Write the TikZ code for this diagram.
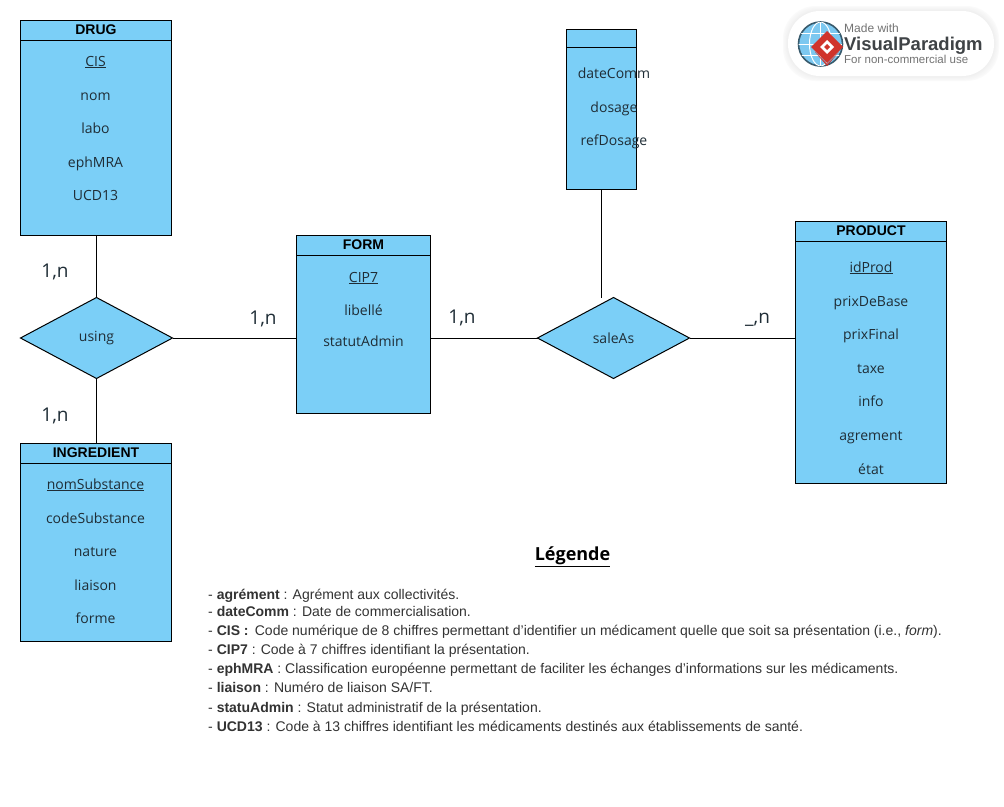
\documentclass[tikz,border=0pt]{standalone}
\usepackage{fontspec}
\setmainfont{Liberation Sans}
\newfontfamily\attrfont{Open Sans}
\usetikzlibrary{shapes.geometric,calc}
\definecolor{entfill}{HTML}{7BCFF7}
\definecolor{txtdark}{HTML}{1F2D36}
\definecolor{legtxt}{HTML}{333333}
\definecolor{vpgray}{HTML}{3F4346}
\definecolor{vpred}{HTML}{D0342C}
\definecolor{vpblue}{HTML}{7CC8F0}
\tikzset{
  ent/.style={draw=black,fill=entfill,line width=1pt,inner sep=0pt,outer sep=0pt,anchor=north west},
  head/.style={draw=black,fill=entfill,line width=1pt,inner sep=0pt,outer sep=0pt,anchor=north west,font=\fontsize{14}{14}\selectfont\bfseries,text=black,text height=10pt,text depth=3pt},
  attr/.style={font=\attrfont\fontsize{14}{14}\selectfont,text=txtdark,inner sep=0pt,anchor=base},
  rel/.style={diamond,draw=black,fill=entfill,line width=1pt,inner sep=0pt,outer sep=0pt,aspect=1.87,font=\attrfont\fontsize{14}{14}\selectfont,text=txtdark},
  card/.style={font=\attrfont\fontsize{19}{19}\selectfont,text=txtdark,inner sep=0pt,anchor=base},
  link/.style={draw=black,line width=1pt},
  leg/.style={font=\fontsize{14}{14}\selectfont,text=legtxt,inner sep=0pt,anchor=base west},
}
\newcommand{\ulat}[1]{\underline{#1}}
\begin{document}
\begin{tikzpicture}[x=1pt,y=-1pt]
\useasboundingbox (0,0) rectangle (1004,806);
\fill[white] (0,0) rectangle (1004,806);

% relationships
\node[rel,minimum width=152pt,minimum height=81pt] (using) at (96.5,338) {using};
\node[rel,minimum width=152pt,minimum height=81pt] (saleas) at (613.5,338) {saleAs};

% entity bodies
\node[ent,minimum width=151pt,minimum height=215pt] (drug) at (20.5,20.5) {};
\node[ent,minimum width=134pt,minimum height=178pt] (form) at (296.5,235.5) {};
\node[ent,minimum width=151pt,minimum height=198pt] (ingredient) at (20.5,443.5) {};
\node[ent,minimum width=151pt,minimum height=262pt] (product) at (795.5,221.5) {};
\node[ent,minimum width=70pt,minimum height=160pt] (assoc) at (566.5,29.5) {};

% headers
\node[head,minimum width=151pt,minimum height=20pt] (drugh) at (20.5,20.5) {DRUG};
\node[head,minimum width=134pt,minimum height=20pt] (formh) at (296.5,235.5) {FORM};
\node[head,minimum width=151pt,minimum height=20pt] (ingh) at (20.5,443.5) {INGREDIENT};
\node[head,minimum width=151pt,minimum height=20pt] (prodh) at (795.5,221.5) {PRODUCT};
\node[head,minimum width=70pt,minimum height=18pt] (assoch) at (566.5,29.5) {};

% connectors
\draw[link] (drug.south -| using.north) -- (using.north);
\draw[link] (using.south) -- (ingredient.north -| using.south);
\draw[link] (using.east) -- (using.east -| form.west);
\draw[link] (saleas.west -| form.east) -- (saleas.west);
\draw[link] (saleas.east) -- (saleas.east -| product.west);
\coordinate (assocb) at ([xshift=-0.5pt]assoc.south);
\draw[link] (assocb) -- (assocb |- saleas.north);

% attributes
\foreach \t/\y [count=\i] in {\ulat{CIS}/66,nom/100,labo/133,ephMRA/167,UCD13/200}
  \node[attr] (drug\i) at (95.5,\y) {\t};
\foreach \t/\y [count=\i] in {\ulat{CIP7}/282,libellé/315,statutAdmin/346}
  \node[attr] (form\i) at (363.5,\y) {\t};
\foreach \t/\y [count=\i] in {\ulat{nomSubstance}/489,codeSubstance/523,nature/556,liaison/590,forme/623}
  \node[attr] (ing\i) at (95.5,\y) {\t};
\foreach \t/\y [count=\i] in {\ulat{idProd}/272,prixDeBase/306,prixFinal/339,taxe/373,info/406,agrement/440,état/474}
  \node[attr] (prod\i) at (871,\y) {\t};
\foreach \t/\y [count=\i] in {dateComm/78,dosage/112,refDosage/145}
  \node[attr] (assoc\i) at (614,\y) {\t};

% cardinalities
\node[card] (c1) at (55,277) {1,n};
\node[card] (c2) at (55,421) {1,n};
\node[card] (c3) at (263,324) {1,n};
\node[card] (c4) at (462,323) {1,n};
\node[card] (c5) at (757.5,323) {\_,n};

% legend
\node[font=\attrfont\fontsize{18}{18}\selectfont\bfseries,text=black,inner sep=0pt,anchor=base] (legtitle) at (572.5,560) {\ulat{Légende}};
\node[leg] (l1) at (208,599) {- \textbf{agrément} : Agrément aux collectivités.};
\node[leg] (l2) at (208,616) {- \textbf{dateComm} : Date de commercialisation.};
\node[leg] (l3) at (208,635) {- \textbf{CIS :}\, Code numérique de 8 chiffres permettant d’identifier un médicament quelle que soit sa présentation (i.e., \textit{form}).};
\node[leg] (l4) at (208,654) {- \textbf{CIP7} : Code à 7 chiffres identifiant la présentation.};
\node[leg] (l5) at (208,673) {- \textbf{ephMRA} : Classification européenne permettant de faciliter les échanges d’informations sur les médicaments.};
\node[leg] (l6) at (208,692) {- \textbf{liaison} : Numéro de liaison SA/FT.};
\node[leg] (l7) at (208,712) {- \textbf{statuAdmin} : Statut administratif de la présentation.};
\node[leg] (l8) at (208,731) {- \textbf{UCD13} : Code à 13 chiffres identifiant les médicaments destinés aux établissements de santé.};

% watermark badge
\foreach \o/\c in {5/2,4/3,3/4,2/5,1/6}
  \fill[black!\c!white,rounded corners=33pt] (788-\o,11-\o) rectangle (994+\o,76+\o);
\fill[white,rounded corners=32pt] (788,11) rectangle (994,76);
\fill[vpblue] (820.5,44) circle (22);
\draw[black!55!vpblue,line width=1.6pt] (820.5,44) circle (22);
\begin{scope}
\clip (820.5,44) circle (22);
\draw[white,line width=1pt] (798,44) -- (843,44) (798,33) -- (843,33) (798,55) -- (843,55) (820.5,21) -- (820.5,67);
\draw[white,line width=1pt] (820.5,44) ellipse (11 and 22);
\end{scope}
\fill[vpred] (815,52) -- (827,64) -- (839,52) -- (827,66) -- cycle;
\fill[vpred] (827,31) -- (843,47) -- (827,63) -- (811,47) -- cycle;
\fill[white] (827,40) -- (834,47) -- (827,54) -- (820,47) -- cycle;
\fill[vpred] (827,44) -- (830,47) -- (827,50) -- (824,47) -- cycle;
\node[font=\fontsize{12}{12}\selectfont,text=black!55,inner sep=0pt,anchor=base west] (vp1) at (844,32) {Made with};
\node[font=\fontsize{18.5}{18.5}\selectfont\bfseries,text=vpgray,inner sep=0pt,anchor=base west] (vp2) at (844,50) {VisualParadigm};
\node[font=\fontsize{11.5}{11.5}\selectfont,text=black!55,inner sep=0pt,anchor=base west] (vp3) at (844,63) {For non-commercial use};
\end{tikzpicture}
\end{document}
